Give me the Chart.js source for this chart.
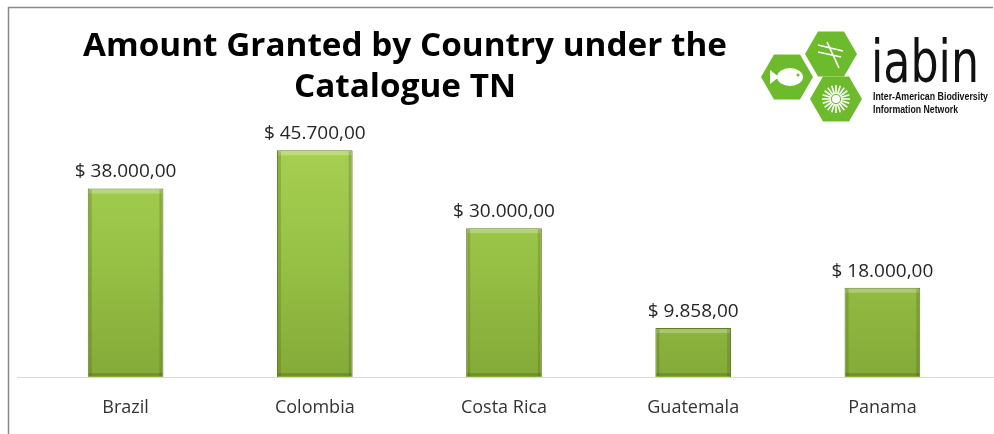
<!DOCTYPE html>
<html>
<head>
<meta charset="utf-8">
<script src="https://cdn.jsdelivr.net/npm/chart.js@4"></script>
<style>
    html, body { margin: 0; padding: 0; background: #ffffff; }
    #wrap { width: 994px; height: 434px; position: relative; }
</style>
</head>
<body>
<div id="wrap"><canvas id="myChart" width="994" height="434"></canvas></div>
<script>
const countries = ['Brazil', 'Colombia', 'Costa Rica', 'Guatemala', 'Panama'];
const amounts = [38000, 45700, 30000, 9858, 18000];
const titleLines = ['Amount Granted by Country under the', 'Catalogue TN'];
const yMax = 50000;

function money(v) {
    const parts = v.toFixed(2).split('.');
    const whole = parts[0].replace(/\B(?=(\d{3})+(?!\d))/g, '.');
    return '$ ' + whole + ',' + parts[1];
}

function hexPath(ctx, cx, cy, w, h) {
    ctx.beginPath();
    ctx.moveTo(cx - w / 2, cy);
    ctx.lineTo(cx - w / 4, cy - h / 2);
    ctx.lineTo(cx + w / 4, cy - h / 2);
    ctx.lineTo(cx + w / 2, cy);
    ctx.lineTo(cx + w / 4, cy + h / 2);
    ctx.lineTo(cx - w / 4, cy + h / 2);
    ctx.closePath();
}

// draw text squeezed/stretched to a given width
function fitText(ctx, text, x, y, width) {
    const w = ctx.measureText(text).width;
    ctx.save();
    ctx.translate(x, y);
    ctx.scale(width / w, 1);
    ctx.fillText(text, 0, 0);
    ctx.restore();
}

const decorations = {
    id: 'decorations',
    beforeDraw(chart) {
        const ctx = chart.ctx;
        ctx.save();
        ctx.fillStyle = '#ffffff';
        ctx.fillRect(0, 0, chart.width, chart.height);
        // frame
        ctx.strokeStyle = '#8a8a8a';
        ctx.lineWidth = 1.5;
        ctx.beginPath();
        ctx.moveTo(8.5, 434);
        ctx.lineTo(8.5, 7.5);
        ctx.lineTo(993, 7.5);
        ctx.stroke();
        // baseline
        const y0 = Math.round(chart.scales.y.getPixelForValue(0)) + 0.5;
        ctx.strokeStyle = '#d9d9d9';
        ctx.lineWidth = 1;
        ctx.beginPath();
        ctx.moveTo(17, y0);
        ctx.lineTo(994, y0);
        ctx.stroke();
        // title
        ctx.fillStyle = '#000000';
        ctx.textAlign = 'center';
        ctx.textBaseline = 'middle';
        ctx.font = 'bold 33px "Open Sans"';
        const k = 644 / ctx.measureText(titleLines[0]).width;
        ctx.textAlign = 'left';
        [47, 88].forEach(function (y, i) {
            const w = ctx.measureText(titleLines[i]).width * k;
            fitText(ctx, titleLines[i], 405 - w / 2, y, w);
        });
        ctx.restore();
        drawLogo(ctx);
    },
    afterDatasetsDraw(chart) {
        const ctx = chart.ctx;
        const meta = chart.getDatasetMeta(0);
        ctx.save();
        // bevel shading on bars
        meta.data.forEach(function (bar) {
            const l = bar.x - bar.width / 2, r = bar.x + bar.width / 2;
            const t = bar.y, b = bar.base;
            ctx.fillStyle = 'rgba(255,255,255,0.25)';
            ctx.fillRect(l + 1, t + 1, r - l - 2, 4);
            ctx.fillStyle = 'rgba(70,90,20,0.25)';
            ctx.fillRect(l + 1, t + 1, 3, b - t - 2);
            ctx.fillRect(r - 4, t + 1, 3, b - t - 2);
            ctx.fillStyle = 'rgba(70,90,20,0.3)';
            ctx.fillRect(l + 1, b - 4, r - l - 2, 3);
        });
        ctx.fillStyle = '#262626';
        ctx.font = '19px "Open Sans"';
        ctx.textAlign = 'center';
        ctx.textBaseline = 'bottom';
        meta.data.forEach(function (bar, i) {
            ctx.fillText(money(amounts[i]), bar.x, bar.y - 7);
        });
        ctx.restore();
    }
};

function drawLogo(ctx) {
    const green = '#6dbb2c';
    ctx.save();
    ctx.fillStyle = green;
    hexPath(ctx, 787, 77, 52, 45); ctx.fill();
    hexPath(ctx, 831, 54, 52, 45); ctx.fill();
    hexPath(ctx, 836, 99, 52, 45); ctx.fill();

    ctx.fillStyle = '#ffffff';
    ctx.strokeStyle = '#ffffff';
    // fish
    ctx.beginPath();
    ctx.ellipse(790, 77, 13, 9, 0, 0, Math.PI * 2);
    ctx.fill();
    ctx.beginPath();
    ctx.moveTo(779, 77);
    ctx.lineTo(770, 70);
    ctx.lineTo(770, 84);
    ctx.closePath();
    ctx.fill();
    ctx.fillStyle = green;
    ctx.beginPath();
    ctx.arc(798, 75, 1.5, 0, Math.PI * 2);
    ctx.fill();
    // dragonfly
    ctx.lineWidth = 1.6;
    ctx.beginPath();
    ctx.moveTo(827, 42); ctx.lineTo(839, 68);
    ctx.moveTo(818, 45); ctx.lineTo(843, 51);
    ctx.moveTo(818, 52); ctx.lineTo(841, 57);
    ctx.stroke();
    // flower
    ctx.beginPath();
    for (let n = 0; n < 20; n++) {
        const a = n * Math.PI / 10;
        ctx.moveTo(836 + Math.cos(a) * 5, 99 + Math.sin(a) * 5);
        ctx.lineTo(836 + Math.cos(a) * 14, 99 + Math.sin(a) * 14);
    }
    ctx.stroke();
    ctx.fillStyle = '#ffffff';
    ctx.beginPath();
    ctx.arc(836, 99, 4, 0, Math.PI * 2);
    ctx.fill();

    // wordmark
    ctx.fillStyle = '#111111';
    ctx.textAlign = 'left';
    ctx.textBaseline = 'alphabetic';
    ctx.font = '58px "DejaVu Sans"';
    fitText(ctx, 'iabin', 871, 82, 108);
    ctx.font = 'bold 11px "Liberation Sans"';
    fitText(ctx, 'Inter-American Biodiversity', 873, 100, 115);
    fitText(ctx, 'Information Network', 873, 113, 85);
    ctx.restore();
}

const ctx = document.getElementById('myChart').getContext('2d');
const myChart = new Chart(ctx, {
    type: 'bar',
    data: {
        labels: countries,
        datasets: [{
            data: amounts,
            backgroundColor: function (c) {
                const area = c.chart.chartArea;
                if (!area) return '#93bd44';
                const g = c.chart.ctx.createLinearGradient(0, area.top, 0, area.bottom);
                g.addColorStop(0, '#a9d253');
                g.addColorStop(0.5, '#98c246');
                g.addColorStop(1, '#84aa38');
                return g;
            },
            borderColor: '#5f7d25',
            borderWidth: 1,
            barPercentage: 0.4,
            categoryPercentage: 1
        }]
    },
    options: {
        responsive: false,
        animation: false,
        layout: {
            padding: { left: 31, right: 17, top: 129, bottom: 0 }
        },
        scales: {
            x: {
                grid: { display: false, drawTicks: false },
                border: { display: false },
                ticks: {
                    color: '#333333',
                    padding: 20,
                    font: { family: 'Open Sans', size: 18 }
                },
                afterFit: function (scale) { scale.height = 57; }
            },
            y: {
                display: false,
                min: 0,
                max: yMax
            }
        },
        plugins: {
            legend: { display: false },
            title: { display: false },
            tooltip: { enabled: false }
        }
    },
    plugins: [decorations]
});
</script>
</body>
</html>
